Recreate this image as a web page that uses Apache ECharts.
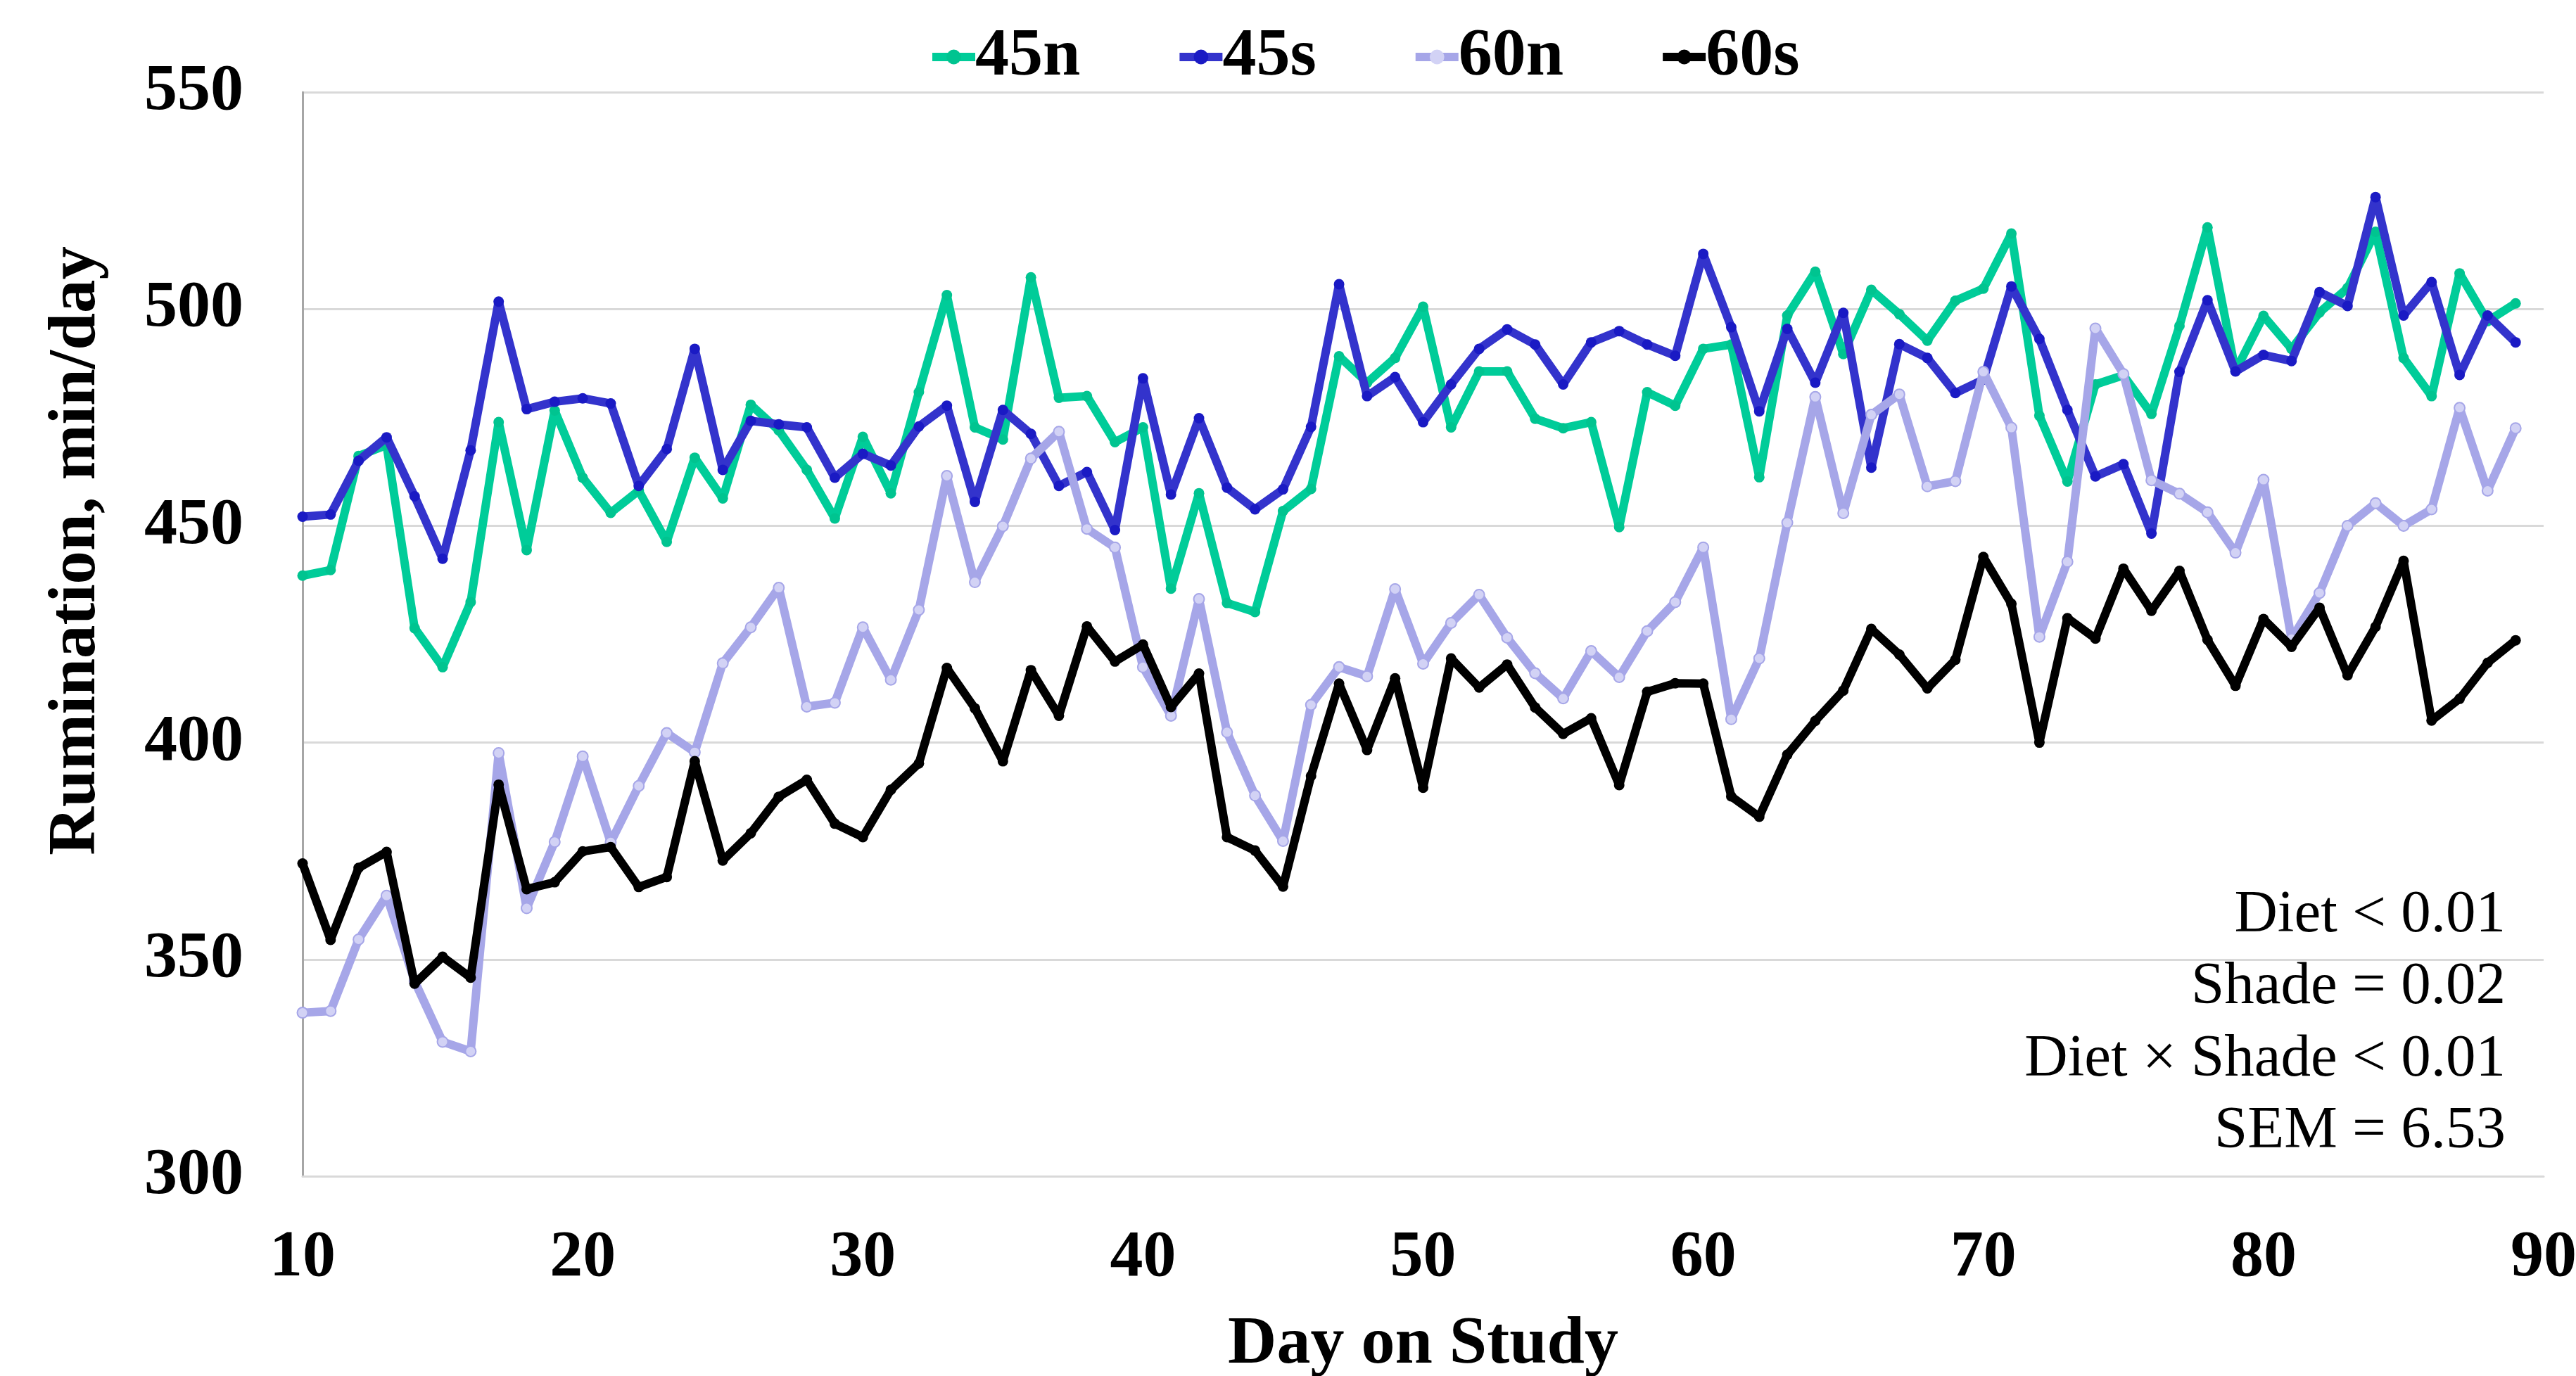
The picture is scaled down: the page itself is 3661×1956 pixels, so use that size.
<!DOCTYPE html>
<html>
<head>
<meta charset="utf-8">
<script src="https://cdn.jsdelivr.net/npm/echarts@6/dist/echarts.min.js"></script>
<style>
html,body{margin:0;padding:0;background:#fff;}
#chart{width:3661px;height:1956px;}
</style>
</head>
<body>
<div id="chart"></div>
<script>
const days = [10,11,12,13,14,15,16,17,18,19,20,21,22,23,24,25,26,27,28,29,30,31,32,33,34,35,36,37,38,39,40,41,42,43,44,45,46,47,48,49,50,51,52,53,54,55,56,57,58,59,60,61,62,63,64,65,66,67,68,69,70,71,72,73,74,75,76,77,78,79,80,81,82,83,84,85,86,87,88,89];

const s45n = [438.5,439.8,466.1,468.6,426.4,417.4,432.4,473.9,444.4,476.6,
461.1,453.0,458.1,446.3,465.7,456.3,477.9,472.0,462.9,451.7,
470.5,457.5,480.8,503.2,472.7,469.9,507.3,479.5,479.9,469.3,
472.7,435.5,457.5,432.2,430.1,453.4,458.5,489.1,483.0,488.7,
500.5,472.7,485.6,485.6,474.7,472.5,473.9,449.7,480.8,477.7,
490.8,491.8,461.2,498.5,508.6,489.6,504.4,498.8,492.7,501.9,
504.7,517.4,475.4,460.2,482.6,484.7,475.8,496.1,518.8,485.7,
498.4,490.8,499.2,504.8,517.8,488.7,479.9,508.2,497.2,501.3];

const s45s = [452.1,452.6,465.0,470.4,456.8,442.4,467.4,501.7,476.9,478.6,
479.4,478.2,459.2,467.7,490.8,462.9,474.2,473.4,472.7,461.1,
466.6,463.9,472.9,477.7,455.5,476.7,471.2,459.2,462.4,449.0,
484.0,457.2,474.8,458.8,453.8,458.4,472.8,505.7,479.9,484.3,
473.9,482.6,490.8,495.3,491.8,482.6,492.3,494.9,491.8,489.2,
512.7,495.8,476.4,495.4,483.0,499.1,463.4,491.9,488.7,480.6,
483.7,505.2,493.1,476.7,461.4,464.2,448.2,485.5,502.0,485.6,
489.4,488.0,503.9,500.7,525.8,498.5,506.2,484.8,498.5,492.3];

const s60n = [337.7,338.1,354.6,364.7,345.0,331.0,328.8,397.6,361.8,377.1,
396.8,377.0,390.0,402.2,397.8,418.3,426.6,435.7,408.3,409.2,
426.6,414.5,430.6,461.5,437.0,449.9,465.5,471.7,449.3,445.0,
417.4,406.2,433.1,402.4,387.8,377.3,408.7,417.4,415.3,435.4,
418.2,427.6,434.1,424.2,416.0,410.2,421.1,415.1,425.7,432.4,
445.0,405.4,419.4,450.7,479.7,452.9,475.6,480.3,459.1,460.3,
485.5,472.6,424.4,441.7,495.5,485.0,460.5,457.4,453.1,443.8,
460.6,423.9,434.5,450.0,455.2,450.0,453.8,477.2,458.1,472.5];

const s60s = [372.1,354.5,371.1,374.8,344.4,350.6,345.8,390.3,366.2,367.8,
374.9,375.9,366.7,369.0,395.7,372.8,379.1,387.5,391.4,381.3,
378.2,389.1,395.2,417.2,407.9,395.7,416.7,406.2,426.8,418.7,
422.6,408.2,415.9,378.2,375.1,366.8,392.3,413.6,398.3,414.8,
389.6,419.4,412.7,418.0,408.1,402.0,405.6,390.2,411.7,413.7,
413.6,387.6,382.9,397.2,405.0,412.0,426.2,420.3,412.5,419.1,
442.8,432.0,400.0,428.7,424.0,440.1,430.4,439.6,423.7,413.1,
428.5,422.1,431.1,415.5,426.7,441.9,405.1,410.1,418.4,423.6];

const seriesNames = ['45n','45s','60n','60s'];
const xTicks = [10,20,30,40,50,60,70,80,90];
const yTicks = [300,350,400,450,500,550];
const statLines = ['Diet < 0.01','Shade = 0.02','Diet \u00d7 Shade < 0.01','SEM = 6.53'];

const FONT = 'Liberation Serif, Times New Roman, serif';
const lineColors = ['#00CC99','#3333CC','#A6A6E8','#000000'];
const markColors = ['#00C490','#1A1AC4','#D2D2F5','#000000'];
const values = [s45n, s45s, s60n, s60s];

function pairs(arr){ return days.map((d,i)=>[d, arr[i]]); }

const chart = echarts.init(document.getElementById('chart'), null, {renderer:'canvas'});

const series = seriesNames.map((name,k)=>({
  name: name,
  type: 'line',
  data: pairs(values[k]),
  symbol: 'circle',
  symbolSize: 15,
  showSymbol: true,
  lineStyle: {color: lineColors[k], width: 12},
  itemStyle: {color: markColors[k], borderColor: lineColors[k], borderWidth: k===2 ? 2 : 0},
  emphasis: {disabled: true},
  z: 2 + k,
  animation: false
}));

const graphics = statLines.map((t,i)=>({
  type: 'text',
  right: 3661 - 3561,
  top: 1309 + i*102.5 - 50,
  style: {
    text: t,
    font: 'normal 85px ' + FONT,
    fill: '#000',
    textAlign: 'right'
  }
}));
graphics.push({
  type: 'text',
  left: 62,
  top: 350,
  rotation: Math.PI/2,
  style: {
    text: 'Rumination, min/day',
    font: 'bold 95px ' + FONT,
    fill: '#000',
    textAlign: 'center',
    textVerticalAlign: 'middle'
  }
});

chart.setOption({
  backgroundColor: '#ffffff',
  animation: false,
  grid: {left: 430, right: 46, top: 131, bottom: 284, containLabel: false, outerBoundsMode: 'none'},
  legend: {
    data: seriesNames,
    left: 1314,
    top: 28,
    itemWidth: 61,
    itemHeight: 26,
    itemGap: 135,
    lineStyle: {width: 12},
    itemStyle: {borderWidth: 0},
    textStyle: {fontFamily: FONT, fontWeight: 'bold', fontSize: 96, color: '#000', padding: [0,0,0,-5]}
  },
  xAxis: {
    type: 'value',
    min: xTicks[0],
    max: xTicks[xTicks.length-1],
    interval: 10,
    name: 'Day on Study',
    nameLocation: 'middle',
    nameGap: 192,
    nameTextStyle: {fontFamily: FONT, fontWeight: 'bold', fontSize: 96, color: '#000'},
    axisLine: {show: true, lineStyle: {color: '#D9D9D9', width: 3}},
    axisTick: {show: false},
    splitLine: {show: false},
    axisLabel: {fontFamily: FONT, fontWeight: 'bold', fontSize: 94, color: '#000', margin: 70}
  },
  yAxis: {
    type: 'value',
    min: yTicks[0],
    max: yTicks[yTicks.length-1],
    interval: 50,
    axisLine: {show: true, lineStyle: {color: '#A6A6A6', width: 3}},
    axisTick: {show: false},
    splitLine: {show: true, lineStyle: {color: '#D9D9D9', width: 3}},
    axisLabel: {fontFamily: FONT, fontWeight: 'bold', fontSize: 94, color: '#000', margin: 84}
  },
  graphic: graphics,
  series: series
});
</script>
</body>
</html>
